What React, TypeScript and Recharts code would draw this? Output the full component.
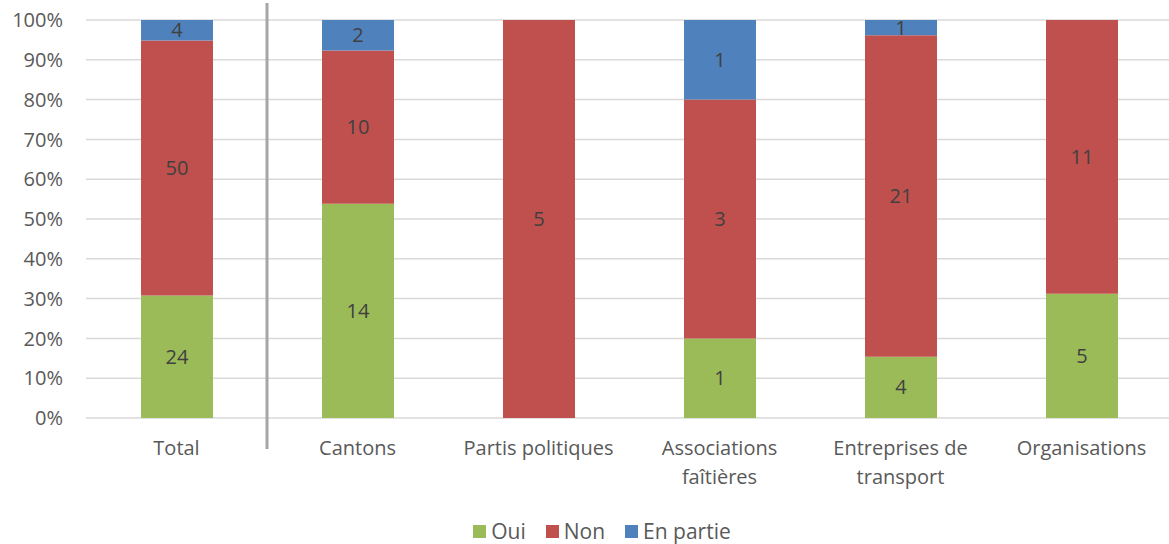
import { Bar, BarChart, CartesianGrid, LabelList, Legend, ReferenceLine, XAxis, YAxis } from "recharts"

const categories = ["Total", "Cantons", "Partis politiques", "Associations faîtières", "Entreprises de transport", "Organisations"]
const tickLines = [["Total"], ["Cantons"], ["Partis politiques"], ["Associations", "faîtières"], ["Entreprises de", "transport"], ["Organisations"]]

const oui = [24, 14, 0, 1, 4, 5]
const non = [50, 10, 5, 3, 21, 11]
const enPartie = [4, 2, 0, 1, 1, 0]

const seriesKeys = ["oui", "non", "enPartie"]
const seriesNames = ["Oui", "Non", "En partie"]
const seriesColors = ["#9BBB59", "#C0504D", "#4F81BD"]

const yTicks = [0, 0.1, 0.2, 0.3, 0.4, 0.5, 0.6, 0.7, 0.8, 0.9, 1]

const data = categories.map((name, i) => ({
  name,
  oui: oui[i],
  non: non[i],
  enPartie: enPartie[i],
}))

const font = "'Open Sans', sans-serif"
const fs = 20

function CategoryTick(props: any) {
  const { x, y, index } = props
  const lines = tickLines[index] ?? [props.payload.value]
  return (
    <text x={x} y={y} textAnchor="middle" fill="#595959" fontSize={fs} fontFamily={font}>
      {lines.map((line: string, i: number) => (
        <tspan key={i} x={x} dy={29}>
          {line}
        </tspan>
      ))}
    </text>
  )
}

function LegendContent() {
  return (
    <div
      style={{
        display: "flex",
        justifyContent: "center",
        gap: 20,
        paddingLeft: 32,
        fontFamily: font,
        fontSize: 21,
        color: "#595959",
        lineHeight: "24px",
      }}
    >
      {seriesNames.map((name, i) => (
        <div key={name} style={{ display: "flex", alignItems: "center" }}>
          <span style={{ width: 13, height: 13, background: seriesColors[i], marginRight: 5, display: "inline-block" }} />
          {name}
        </div>
      ))}
    </div>
  )
}

export default function App() {
  return (
    <div style={{ position: "absolute", left: 0, top: 0, width: 1169, height: 544, overflow: "hidden", background: "#fff" }}>
      <BarChart
        width={1172}
        height={544}
        data={data}
        stackOffset="expand"
        margin={{ top: 20, right: 0, bottom: 0, left: 0 }}
      >
        <CartesianGrid vertical={false} stroke="#D9D9D9" strokeWidth={1.5} />
        <XAxis
          dataKey="name"
          axisLine={false}
          tickLine={false}
          interval={0}
          height={100}
          tick={<CategoryTick />}
        />
        <YAxis
          domain={[0, 1]}
          ticks={yTicks}
          width={86}
          axisLine={false}
          tickLine={false}
          tickMargin={17}
          tick={{ fill: "#595959", fontSize: fs, fontFamily: font }}
          tickFormatter={(v: number) => `${Math.round(v * 100)}%`}
        />
        <Legend verticalAlign="bottom" height={26} wrapperStyle={{ top: 519, bottom: "auto" }} content={<LegendContent />} />
        {seriesKeys.map((key, i) => (
          <Bar key={key} dataKey={key} name={seriesNames[i]} stackId="a" fill={seriesColors[i]} barSize={72} isAnimationActive={false}>
            <LabelList
              dataKey={key}
              position="center"
              fill="#404040"
              fontSize={fs}
              fontFamily={font}
              formatter={(v: any) => (v === 0 ? "" : v)}
            />
          </Bar>
        ))}
        <ReferenceLine
          x="Cantons"
          position="start"
          shape={(p: any) => (
            <line
              x1={p.x1}
              y1={Math.min(p.y1, p.y2) - 17}
              x2={p.x2}
              y2={Math.max(p.y1, p.y2) + 31}
              stroke="#A6A6A6"
              strokeWidth={3}
            />
          )}
        />
      </BarChart>
    </div>
  )
}
